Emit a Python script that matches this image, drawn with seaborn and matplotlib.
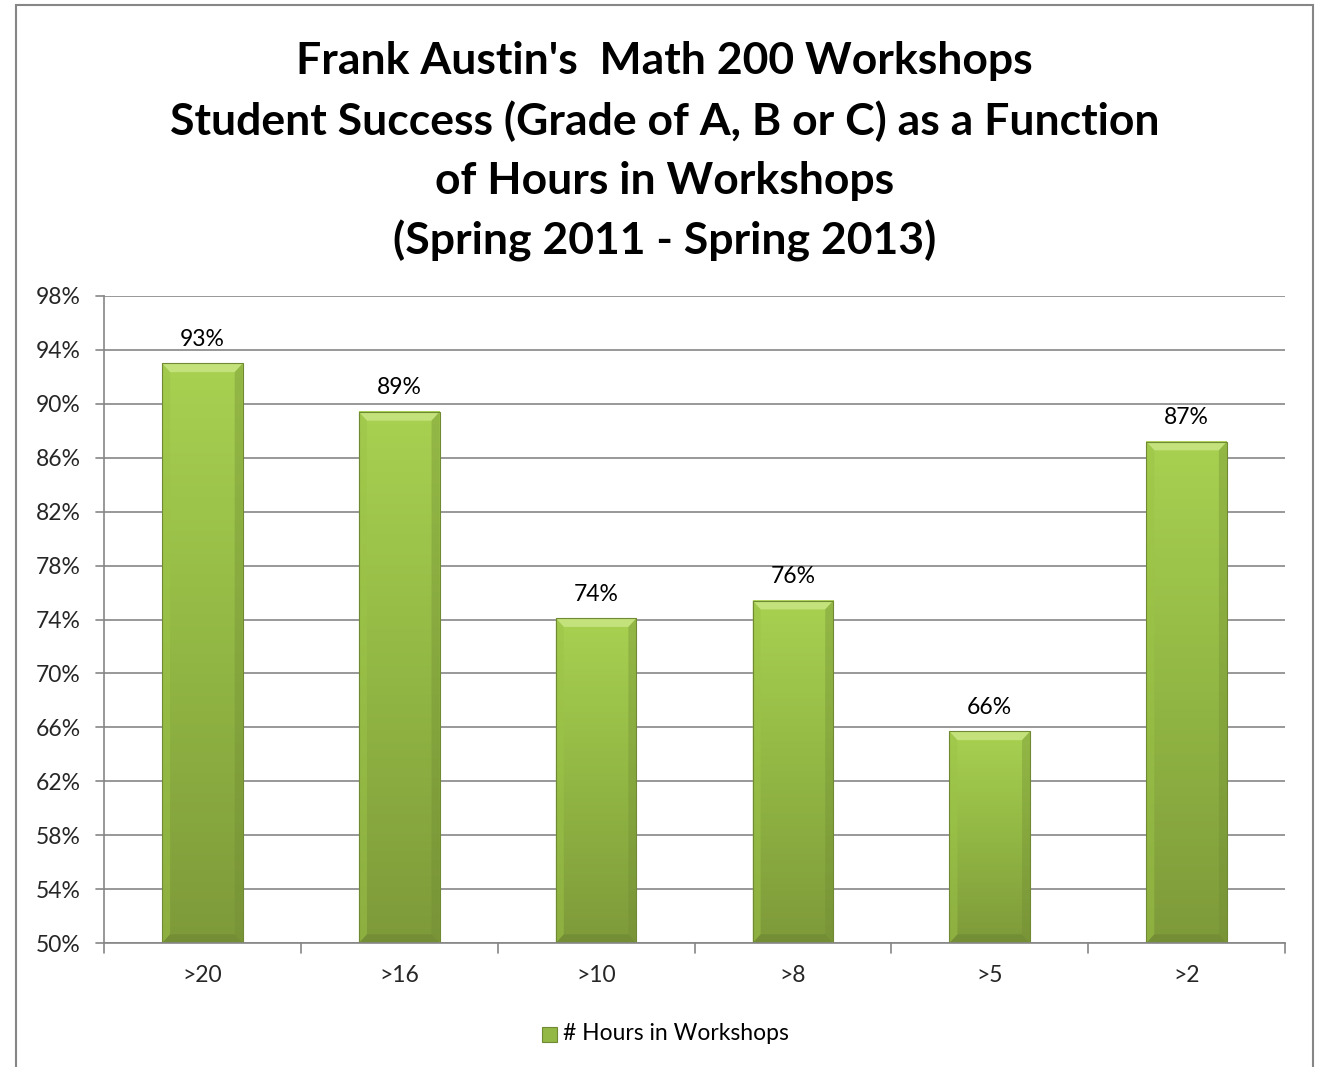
import numpy as np
import pandas as pd
import matplotlib
matplotlib.use('Agg')
import matplotlib.pyplot as plt
import seaborn as sns
from matplotlib.patches import Rectangle, Polygon
from matplotlib.colors import LinearSegmentedColormap

# data
hours = ['>20', '>16', '>10', '>8', '>5', '>2']
success = [93.0, 89.4, 74.1, 75.4, 65.7, 87.2]
labels = ['93%', '89%', '74%', '76%', '66%', '87%']
yticks = [50, 54, 58, 62, 66, 70, 74, 78, 82, 86, 90, 94, 98]

df = pd.DataFrame({'Hours': hours, 'Success': success})

sns.set_theme(style='white')
plt.rcParams['font.family'] = ['Lato', 'DejaVu Sans']

fig = plt.figure(figsize=(13.23, 10.67), dpi=100)
ax = fig.add_axes([0.0786, 0.1162, 0.8927, 0.6064])

sns.barplot(data=df, x='Hours', y='Success', color='#9cc447', width=0.41,
            ax=ax, zorder=3)

YMIN, YMAX = 50, 98
ax.set_ylim(YMIN, YMAX)
ax.set_xlim(-0.5, 5.5)
ax.set_yticks(yticks)
ax.set_yticklabels([f'{t}%' for t in yticks], fontsize=16.5)
ax.tick_params(axis='x', labelsize=16.5, pad=16, length=0)
ax.tick_params(axis='y', length=0, pad=17)
ax.set_xlabel('')
ax.set_ylabel('')
ax.grid(axis='y', color='#868686', linewidth=1.2, zorder=0)
for s in ['top', 'right']:
    ax.spines[s].set_visible(False)
for s in ['left', 'bottom']:
    ax.spines[s].set_color('#868686')
    ax.spines[s].set_linewidth(1.2)
    ax.spines[s].set_zorder(5)

# tick marks: category boundaries under x axis, small ticks left of y axis
trans = ax.get_xaxis_transform()
for b in np.arange(-0.5, 6.0, 1.0):
    ax.plot([b, b], [0, -0.015], color='#868686', lw=1.2, transform=trans, clip_on=False)
ytrans = ax.get_yaxis_transform()
for t in yticks:
    ax.plot([-0.007, 0], [t, t], color='#868686', lw=1.2, transform=ytrans, clip_on=False)

# gradient + bevel on each bar
cmap = LinearSegmentedColormap.from_list('g', ['#7e9a3a', '#92b744', '#a8d151'])
grad = np.linspace(0, 1, 256).reshape(-1, 1)
for p, lab in zip(ax.patches, labels):
    x0, w = p.get_x(), p.get_width()
    top = p.get_y() + p.get_height()
    y0 = YMIN
    p.set_facecolor('none')
    p.set_edgecolor('none')
    ax.imshow(grad, cmap=cmap, aspect='auto', origin='lower',
              extent=[x0, x0 + w, y0, top], zorder=3.5)
    ax.add_patch(Rectangle((x0, y0), w, top - y0, facecolor='none',
                           edgecolor='#6f8a33', lw=0.8, zorder=4.5))
    bw, bh = w * 0.1, 0.65
    # top bevel (light) and bottom bevel (dark)
    ax.add_patch(Polygon([[x0, top], [x0 + w, top], [x0 + w - bw, top - bh], [x0 + bw, top - bh]],
                         closed=True, facecolor='#c4e27c', edgecolor='none', zorder=4))
    ax.add_patch(Polygon([[x0, y0], [x0 + w, y0], [x0 + w - bw, y0 + bh], [x0 + bw, y0 + bh]],
                         closed=True, facecolor='#6f8a33', edgecolor='none', alpha=0.7, zorder=4))
    # side bevels
    ax.add_patch(Polygon([[x0, top], [x0 + bw, top - bh], [x0 + bw, y0 + bh], [x0, y0]],
                         closed=True, facecolor='#9cc447', edgecolor='none', alpha=0.5, zorder=4))
    ax.add_patch(Polygon([[x0 + w, top], [x0 + w - bw, top - bh], [x0 + w - bw, y0 + bh], [x0 + w, y0]],
                         closed=True, facecolor='#6f8a33', edgecolor='none', alpha=0.35, zorder=4))
    ax.text(x0 + w / 2, top + 1.0, lab, ha='center', va='bottom', fontsize=16.5, color='black')

ax.set_xlim(-0.5, 5.5)
ax.set_ylim(YMIN, YMAX)

# title
title_lines = ["Frank Austin's  Math 200 Workshops",
               "Student Success (Grade of A, B or C) as a Function",
               "of Hours in Workshops",
               "(Spring 2011 - Spring 2013)"]
for i, line in enumerate(title_lines):
    fig.text(0.5025, 1 - (61 + i * 60) / 1067, line, ha='center', va='center',
             fontsize=32, fontweight='bold', color='black')

# legend
fig.patches.append(Rectangle((542 / 1323, 1 - 1042 / 1067), 15 / 1323, 15 / 1067,
                             transform=fig.transFigure, facecolor='#93b845',
                             edgecolor='#6f8a33', lw=0.8))
fig.text(563 / 1323, 1 - 1034 / 1067, '# Hours in Workshops', ha='left', va='center',
         fontsize=16.5, color='black')

# chart border
fig.patches.append(Rectangle((16 / 1323, -0.02), (1313 - 16) / 1323, 1.02 - 5 / 1067,
                             transform=fig.transFigure, facecolor='none',
                             edgecolor='#868686', lw=1.5))

fig.savefig('out.png', dpi=100)
